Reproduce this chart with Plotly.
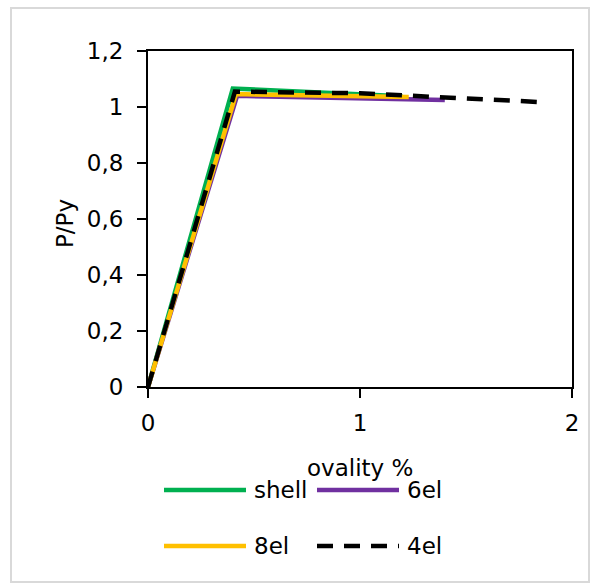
import plotly.graph_objects as go

# Load–ovality curves: normalised load P/Py against ovality (%)
series_names = ["shell", "6el", "8el", "4el"]
series_colors = ["#00B050", "#7030A0", "#FFC000", "#000000"]

shell_x = [0.0, 0.40, 1.20]
shell_y = [0.0, 1.066, 1.038]

el6_x = [0.0, 0.42, 1.40]
el6_y = [0.0, 1.040, 1.025]

el8_x = [0.0, 0.415, 1.23]
el8_y = [0.0, 1.046, 1.036]

el4_x = [0.0, 0.41, 1.00, 1.84]
el4_y = [0.0, 1.055, 1.049, 1.018]

x_ticks = [0, 1, 2]
y_ticks = [0, 0.2, 0.4, 0.6, 0.8, 1.0, 1.2]

FONT = "DejaVu Sans"
FSIZE = 23
W, H = 599, 584
L, R, T, B = 148, 27, 51, 197
PW, PH = W - L - R, H - T - B


def px_x(px):
    return (px - L) / PW


def px_y(py):
    return (H - B - py) / PH


fig = go.Figure()
data = [(shell_x, shell_y), (el6_x, el6_y), (el8_x, el8_y), (el4_x, el4_y)]
for name, color, (xs, ys) in zip(series_names, series_colors, data):
    dash = "16px,11px" if name == "4el" else "solid"
    fig.add_trace(go.Scatter(
        x=xs, y=ys, mode="lines", name=name,
        line=dict(color=color, width=4.5, dash=dash),
        showlegend=False,
    ))

# Outer chart frame
shapes = [dict(
    type="rect", xref="paper", yref="paper",
    x0=px_x(11), x1=px_x(589), y0=px_y(582), y1=px_y(8),
    line=dict(color="#D9D9D9", width=2), layer="below",
)]

# Legend drawn as line samples with labels, two columns
annotations = []
legend_pos = [(164, 490), (317, 490), (164, 546), (317, 546)]
for name, color, (lx, ly) in zip(series_names, series_colors, legend_pos):
    shapes.append(dict(
        type="line", xref="paper", yref="paper",
        x0=px_x(lx), x1=px_x(lx + 82), y0=px_y(ly), y1=px_y(ly),
        line=dict(color=color, width=4.5,
                  dash="16px,11px" if name == "4el" else "solid"),
    ))
    annotations.append(dict(
        text=name, xref="paper", yref="paper",
        x=px_x(lx + 88), y=px_y(ly), xanchor="left", yanchor="middle",
        showarrow=False, font=dict(family=FONT, size=FSIZE, color="#000000"),
    ))

annotations.append(dict(
    text="ovality %", xref="paper", yref="paper",
    x=px_x(360), y=px_y(468), xanchor="center", yanchor="middle",
    showarrow=False, font=dict(family=FONT, size=FSIZE, color="#000000"),
))
annotations.append(dict(
    text="P/Py", xref="paper", yref="paper", textangle=-90,
    x=px_x(65), y=px_y(224), xanchor="center", yanchor="middle",
    showarrow=False, font=dict(family=FONT, size=FSIZE, color="#000000"),
))

axis_common = dict(
    showline=True, linecolor="#000000", linewidth=2, mirror=True,
    ticks="outside", ticklen=9, tickwidth=2, tickcolor="#000000",
    showgrid=False, zeroline=False,
    tickfont=dict(family=FONT, size=FSIZE, color="#000000"),
)

fig.update_layout(
    width=W, height=H,
    margin=dict(l=L, r=R, t=T, b=B),
    paper_bgcolor="#FFFFFF", plot_bgcolor="#FFFFFF",
    separators=", ",
    xaxis=dict(range=[0, 2], tickvals=x_ticks, ticklabelstandoff=5,
               **axis_common),
    yaxis=dict(range=[0, 1.2], tickvals=y_ticks, ticklabelstandoff=9,
               **axis_common),
    shapes=shapes,
    annotations=annotations,
)

fig.write_html("out.html")
